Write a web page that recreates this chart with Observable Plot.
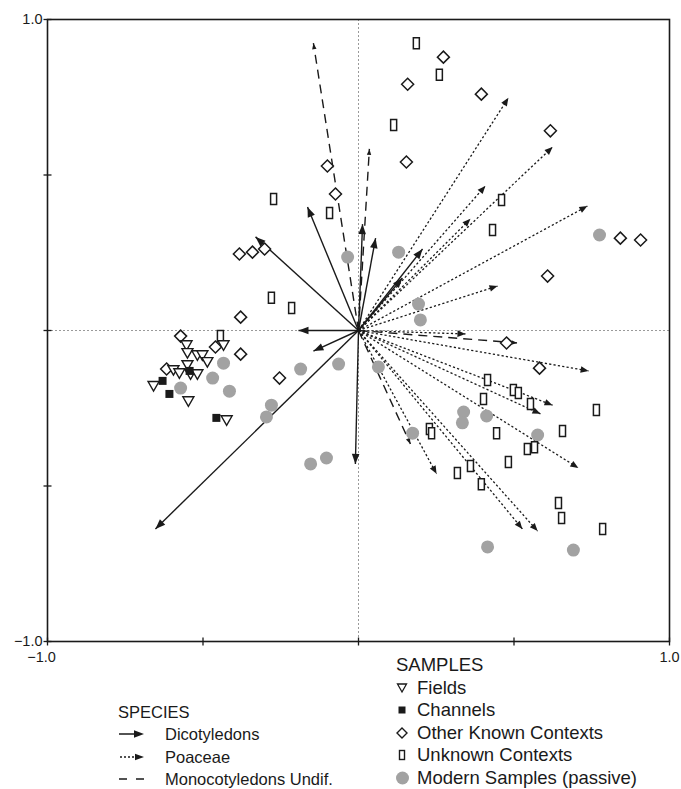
<!DOCTYPE html>
<html><head><meta charset="utf-8">
<script src="https://cdn.jsdelivr.net/npm/d3@7"></script>
<script src="https://cdn.jsdelivr.net/npm/@observablehq/plot@0.6"></script>
<style>
body{margin:0;background:#fff;font-family:"Liberation Sans",Arial,sans-serif;color:#1a1a1a}
#wrap{position:relative;width:681px;height:789px;overflow:hidden;background:#fff}
.leg{position:absolute;font-size:18.5px;line-height:22.5px}
.leg .row{display:flex;align-items:center;height:22.5px;white-space:nowrap}
.leg.sp{font-size:16.5px;line-height:22.3px}
.leg.sp .row{height:22.3px}
.leg svg{flex:none}
</style></head><body><div id="wrap"></div>
<script>
// Species vectors (arrow tips, axis 1, axis 2)
const dicotyledons = [[-0.331,0.301],[-0.164,0.397],[-0.193,0.000],[-0.145,-0.066],[-0.653,-0.638],[-0.010,-0.429],[0.013,0.342],[0.055,0.297],[0.206,0.262],[0.141,0.169]];
const poaceae = [[0.482,0.748],[0.624,0.590],[0.408,0.465],[0.360,0.359],[0.736,0.400],[0.447,0.143],[0.740,-0.130],[0.624,-0.240],[0.585,-0.268],[0.707,-0.442],[0.527,-0.638],[0.576,-0.645],[0.251,-0.461],[0.344,-0.011]];
const monocotyledons = [[-0.145,0.924],[0.035,0.584],[0.511,-0.040],[0.167,-0.365]];
// Samples
const fields = [[-0.553,-0.047],[-0.550,-0.072],[-0.518,-0.079],[-0.502,-0.079],[-0.486,-0.101],[-0.434,-0.047],[-0.595,-0.127],[-0.576,-0.137],[-0.550,-0.111],[-0.540,-0.140],[-0.518,-0.140],[-0.659,-0.178],[-0.547,-0.227],[-0.424,-0.288]];
const channels = [[-0.630,-0.162],[-0.608,-0.204],[-0.543,-0.130],[-0.457,-0.281]];
const otherKnown = [[-0.100,0.529],[-0.074,0.439],[-0.383,0.246],[-0.341,0.252],[-0.302,0.262],[-0.379,0.043],[0.273,0.879],[0.158,0.792],[0.395,0.760],[0.617,0.642],[0.154,0.542],[0.842,0.297],[0.907,0.291],[0.608,0.175],[-0.572,-0.018],[-0.460,-0.053],[-0.379,-0.076],[-0.617,-0.124],[-0.254,-0.153],[0.476,-0.040],[0.582,-0.121]];
const unknownContexts = [[-0.273,0.423],[-0.093,0.378],[-0.280,0.105],[-0.215,0.072],[0.186,0.924],[0.260,0.822],[0.113,0.661],[0.460,0.420],[0.431,0.323],[-0.444,-0.018],[0.415,-0.159],[0.498,-0.191],[0.514,-0.201],[0.402,-0.220],[0.553,-0.236],[0.765,-0.256],[0.228,-0.317],[0.235,-0.330],[0.444,-0.330],[0.656,-0.323],[0.543,-0.381],[0.566,-0.375],[0.482,-0.423],[0.360,-0.436],[0.318,-0.458],[0.395,-0.494],[0.643,-0.555],[0.653,-0.603],[0.785,-0.638]];
const modern = [[-0.035,0.236],[0.129,0.252],[0.775,0.307],[0.193,0.085],[0.199,0.034],[-0.434,-0.105],[-0.469,-0.153],[-0.572,-0.185],[-0.415,-0.195],[-0.186,-0.124],[-0.064,-0.108],[-0.280,-0.240],[-0.296,-0.278],[-0.154,-0.429],[-0.103,-0.410],[0.064,-0.117],[0.338,-0.262],[0.334,-0.297],[0.412,-0.275],[0.174,-0.330],[0.576,-0.336],[0.415,-0.696],[0.691,-0.706]];
// Axes
const axisTicks = [-1, -0.5, 0, 0.5, 1];
const axisLabelsLow = [-1];
const axisLabelsHigh = [1];
const speciesTitle = "SPECIES";
const speciesLabels = ["Dicotyledons", "Poaceae", "Monocotyledons Undif."];
const samplesTitle = "SAMPLES";
const sampleLabels = ["Fields", "Channels", "Other Known Contexts", "Unknown Contexts", "Modern Samples (passive)"];

const INK = "#1a1a1a", GREY = "#a2a2a2";
const sym = draw => ({draw});
const triDown = sym(c => {c.moveTo(-5.5,-4.3); c.lineTo(5.5,-4.3); c.lineTo(0,5.2); c.closePath();});
const diamond = sym(c => {c.moveTo(0,-6); c.lineTo(6,0); c.lineTo(0,6); c.lineTo(-6,0); c.closePath();});
const rectSym = sym(c => {c.moveTo(-3,-5.5); c.lineTo(3,-5.5); c.lineTo(3,5.5); c.lineTo(-3,5.5); c.closePath();});
const squareSym = sym(c => {c.moveTo(-4,-4); c.lineTo(4,-4); c.lineTo(4,4); c.lineTo(-4,4); c.closePath();});
const head = (len, half) => sym(c => {c.moveTo(0,0); c.lineTo(half,len); c.lineTo(-half,len); c.closePath();});
const vTick = sym(c => {c.moveTo(0,-4); c.lineTo(0,4);});
const hTick = sym(c => {c.moveTo(-4,0); c.lineTo(4,0);});
const angle = d => Math.atan2(d[0], d[1]) * 180 / Math.PI;
const fmt = d => (d < 0 ? "\u2212" : "") + Math.abs(d).toFixed(1);

function vectors(data, dash, hl, hw, width) {
  return [
    Plot.link(data, {x1: () => 0, y1: () => 0, x2: d => d[0], y2: d => d[1], stroke: INK, strokeWidth: width, strokeDasharray: dash}),
    Plot.dot(data, {x: d => d[0], y: d => d[1], symbol: head(hl, hw), rotate: angle, fill: INK, stroke: "none"})
  ];
}
function samples(data, symbol, fill, stroke, sw, r) {
  return Plot.dot(data, {x: d => d[0], y: d => d[1], symbol, fill, stroke, strokeWidth: sw, r});
}

const chart = Plot.plot({
  width: 681, height: 672,
  marginLeft: 47, marginRight: 12, marginTop: 19, marginBottom: 31,
  x: {domain: [-1, 1]},
  y: {domain: [-1, 1]},
  style: {fontFamily: "'Liberation Sans', Arial, sans-serif", fontSize: "14.5px", color: INK, background: "white"},
  marks: [
    Plot.ruleX([0], {stroke: "#9a9a9a", strokeWidth: 1, strokeDasharray: "2,2"}),
    Plot.ruleY([0], {stroke: "#9a9a9a", strokeWidth: 1, strokeDasharray: "2,2"}),
    Plot.frame({stroke: INK, strokeWidth: 1.6}),
    Plot.dot(axisTicks, {x: d => d, frameAnchor: "bottom", symbol: vTick, stroke: INK, strokeWidth: 1.3}),
    Plot.dot(axisTicks, {y: d => d, frameAnchor: "left", symbol: hTick, stroke: INK, strokeWidth: 1.3}),
    Plot.axisX({ticks: axisLabelsLow, tickSize: 0, tickPadding: 10, tickFormat: fmt, fontSize: 14.5, dx: -6}),
    Plot.axisX({ticks: axisLabelsHigh, tickSize: 0, tickPadding: 10, tickFormat: fmt, fontSize: 14.5}),
    Plot.axisY({ticks: [...axisLabelsLow, ...axisLabelsHigh], tickSize: 0, tickPadding: 5, tickFormat: fmt, fontSize: 14.5}),
    ...vectors(monocotyledons, "9,6", 6, 2.2, 1.4),
    ...vectors(poaceae, "2.2,2.2", 8, 3.3, 1.3),
    ...vectors(dicotyledons, null, 10, 3.8, 1.4),
    samples(modern, "circle", GREY, "none", 0, 6.5),
    samples(unknownContexts, rectSym, "white", INK, 1.5),
    samples(otherKnown, diamond, "white", INK, 1.5),
    samples(fields, triDown, "white", INK, 1.4),
    samples(channels, squareSym, INK, "none", 0)
  ]
});
const wrap = document.getElementById("wrap");
wrap.appendChild(chart);

// Legends
const sw = (inner, w) => `<svg width="${w}" height="16" viewBox="0 0 ${w} 16">${inner}</svg>`;
const sampleSwatches = [
  `<path d="M1.5,4 L10.5,4 L6,12 Z" fill="white" stroke="${INK}" stroke-width="1.3"/>`,
  `<rect x="2.5" y="4.5" width="7" height="7" fill="${INK}"/>`,
  `<path d="M6,3 L11,8 L6,13 L1,8 Z" fill="white" stroke="${INK}" stroke-width="1.4"/>`,
  `<rect x="3.5" y="3.5" width="5" height="9" fill="white" stroke="${INK}" stroke-width="1.4"/>`,
  `<circle cx="6.5" cy="8" r="6.5" fill="${GREY}"/>`
];
const speciesSwatches = [
  `<line x1="1" y1="8" x2="18" y2="8" stroke="${INK}" stroke-width="1.5"/><path d="M26,8 L16,4.3 L16,11.7 Z" fill="${INK}"/>`,
  `<line x1="2" y1="8" x2="18" y2="8" stroke="${INK}" stroke-width="1.3" stroke-dasharray="2,2"/><path d="M26,8 L17,4.7 L17,11.3 Z" fill="${INK}"/>`,
  `<line x1="1" y1="8" x2="26" y2="8" stroke="${INK}" stroke-width="1.5" stroke-dasharray="8,9"/>`
];
const samp = document.createElement("div");
samp.className = "leg"; samp.style.left = "396px"; samp.style.top = "654px";
samp.innerHTML = `<div class="row">${samplesTitle}</div>` +
  sampleLabels.map((l, i) => `<div class="row">${sw(sampleSwatches[i], 21)}${l}</div>`).join("");
wrap.appendChild(samp);
const spec = document.createElement("div");
spec.className = "leg sp"; spec.style.left = "118px"; spec.style.top = "701px";
spec.innerHTML = `<div class="row">${speciesTitle}</div>` +
  speciesLabels.map((l, i) => `<div class="row">${sw(speciesSwatches[i], 47)}${l}</div>`).join("");
wrap.appendChild(spec);
</script></body></html>
